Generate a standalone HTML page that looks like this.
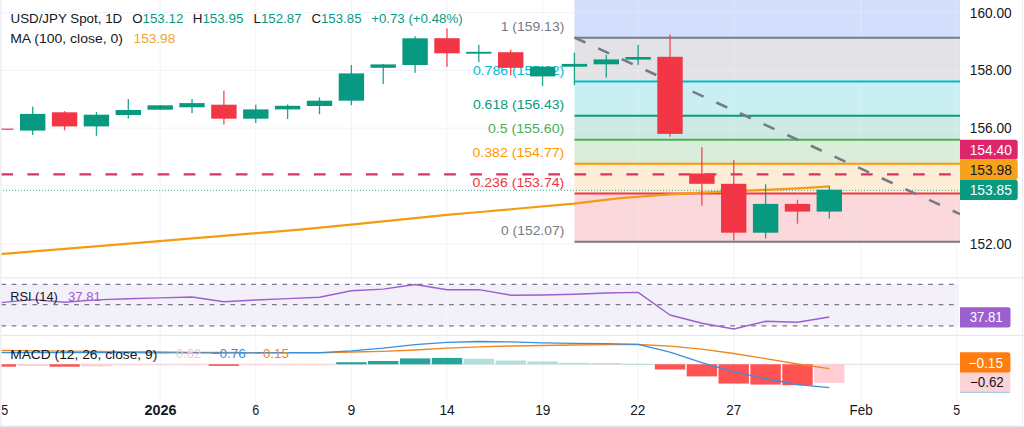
<!DOCTYPE html>
<html><head><meta charset="utf-8"><style>
html,body{margin:0;padding:0;background:#fff;width:1024px;height:427px;overflow:hidden}
svg{display:block;font-family:"Liberation Sans", sans-serif}
</style></head><body>
<svg width="1024" height="427" viewBox="0 0 1024 427">
<rect x="0" y="0" width="1024" height="427" fill="#ffffff"/>
<line x1="160.2" y1="0" x2="160.2" y2="402" stroke="#f0f3fa" stroke-width="1"/>
<line x1="255.8" y1="0" x2="255.8" y2="402" stroke="#f0f3fa" stroke-width="1"/>
<line x1="351.4" y1="0" x2="351.4" y2="402" stroke="#f0f3fa" stroke-width="1"/>
<line x1="447.0" y1="0" x2="447.0" y2="402" stroke="#f0f3fa" stroke-width="1"/>
<line x1="542.6" y1="0" x2="542.6" y2="402" stroke="#f0f3fa" stroke-width="1"/>
<line x1="638.1" y1="0" x2="638.1" y2="402" stroke="#f0f3fa" stroke-width="1"/>
<line x1="733.7" y1="0" x2="733.7" y2="402" stroke="#f0f3fa" stroke-width="1"/>
<line x1="861.2" y1="0" x2="861.2" y2="402" stroke="#f0f3fa" stroke-width="1"/>
<line x1="956.8" y1="0" x2="956.8" y2="402" stroke="#f0f3fa" stroke-width="1"/>
<line x1="0" y1="12.6" x2="960" y2="12.6" stroke="#f0f3fa" stroke-width="1"/>
<line x1="0" y1="70.4" x2="960" y2="70.4" stroke="#f0f3fa" stroke-width="1"/>
<line x1="0" y1="128.2" x2="960" y2="128.2" stroke="#f0f3fa" stroke-width="1"/>
<line x1="0" y1="185.9" x2="960" y2="185.9" stroke="#f0f3fa" stroke-width="1"/>
<line x1="0" y1="243.7" x2="960" y2="243.7" stroke="#f0f3fa" stroke-width="1"/>
<rect x="574.5" y="0.0" width="385.5" height="37.7" fill="#d3defc"/>
<rect x="574.5" y="37.7" width="385.5" height="43.6" fill="#e3e3e5"/>
<rect x="574.5" y="81.4" width="385.5" height="34.4" fill="#c9eff3"/>
<rect x="574.5" y="115.7" width="385.5" height="24.0" fill="#cde9e3"/>
<rect x="574.5" y="139.7" width="385.5" height="24.0" fill="#d9edda"/>
<rect x="574.5" y="163.7" width="385.5" height="29.8" fill="#fdecd6"/>
<rect x="574.5" y="193.5" width="385.5" height="48.2" fill="#fad8dc"/>
<line x1="638.1" y1="0" x2="638.1" y2="241.7" stroke="#ffffff" stroke-opacity="0.22" stroke-width="1"/>
<line x1="733.7" y1="0" x2="733.7" y2="241.7" stroke="#ffffff" stroke-opacity="0.22" stroke-width="1"/>
<line x1="861.2" y1="0" x2="861.2" y2="241.7" stroke="#ffffff" stroke-opacity="0.22" stroke-width="1"/>
<line x1="956.8" y1="0" x2="956.8" y2="241.7" stroke="#ffffff" stroke-opacity="0.22" stroke-width="1"/>
<line x1="574.5" y1="12.6" x2="960" y2="12.6" stroke="#ffffff" stroke-opacity="0.22" stroke-width="1"/>
<line x1="574.5" y1="70.4" x2="960" y2="70.4" stroke="#ffffff" stroke-opacity="0.22" stroke-width="1"/>
<line x1="574.5" y1="128.2" x2="960" y2="128.2" stroke="#ffffff" stroke-opacity="0.22" stroke-width="1"/>
<line x1="574.5" y1="185.9" x2="960" y2="185.9" stroke="#ffffff" stroke-opacity="0.22" stroke-width="1"/>
<line x1="574.5" y1="37.7" x2="960" y2="37.7" stroke="#787b86" stroke-width="2"/>
<line x1="574.5" y1="81.4" x2="960" y2="81.4" stroke="#00bcd4" stroke-width="2"/>
<line x1="574.5" y1="115.7" x2="960" y2="115.7" stroke="#089981" stroke-width="2"/>
<line x1="574.5" y1="139.7" x2="960" y2="139.7" stroke="#4caf50" stroke-width="2"/>
<line x1="574.5" y1="163.7" x2="960" y2="163.7" stroke="#ff9800" stroke-width="2"/>
<line x1="574.5" y1="193.5" x2="960" y2="193.5" stroke="#f23645" stroke-width="2"/>
<line x1="574.5" y1="241.7" x2="960" y2="241.7" stroke="#787b86" stroke-width="2"/>
<text x="500.7" y="31.0" fill="#787b86" font-size="13" text-anchor="start" font-weight="normal" textLength="63.6" lengthAdjust="spacingAndGlyphs">1 (159.13)</text>
<text x="472.9" y="74.7" fill="#00bcd4" font-size="13" text-anchor="start" font-weight="normal" textLength="91.4" lengthAdjust="spacingAndGlyphs">0.786 (157.62)</text>
<text x="472.9" y="109.0" fill="#089981" font-size="13" text-anchor="start" font-weight="normal" textLength="91.4" lengthAdjust="spacingAndGlyphs">0.618 (156.43)</text>
<text x="487.9" y="133.0" fill="#4caf50" font-size="13" text-anchor="start" font-weight="normal" textLength="76.4" lengthAdjust="spacingAndGlyphs">0.5 (155.60)</text>
<text x="472.5" y="157.0" fill="#ff9800" font-size="13" text-anchor="start" font-weight="normal" textLength="91.8" lengthAdjust="spacingAndGlyphs">0.382 (154.77)</text>
<text x="472.5" y="186.8" fill="#f23645" font-size="13" text-anchor="start" font-weight="normal" textLength="91.8" lengthAdjust="spacingAndGlyphs">0.236 (153.74)</text>
<text x="501.0" y="235.0" fill="#787b86" font-size="13" text-anchor="start" font-weight="normal" textLength="63.3" lengthAdjust="spacingAndGlyphs">0 (152.07)</text>
<line x1="0" y1="190.3" x2="960" y2="190.3" stroke="#089981" stroke-width="1" stroke-dasharray="1 2" stroke-opacity="0.8"/>
<line x1="1.3" y1="174.4" x2="951" y2="174.4" stroke="#d6336a" stroke-width="2.2" stroke-dasharray="11.7 14.35"/>
<polyline fill="none" stroke="#f39c12" stroke-width="2.2" stroke-linejoin="round" points="0,254.2 120,244.3 300,229.6 351,224.6 447,214.9 480,212.0 574,203.6 620,198.1 670,194.3 702,192.6 766,189.8 798,188.3 830,186.3"/>
<line x1="574.5" y1="37.5" x2="960" y2="214.1" stroke="#787b86" stroke-width="2.6" stroke-dasharray="12 14"/>
<rect x="0.18" y="128.6" width="1.3" height="1.2" fill="#f23645" fill-opacity="0.9"/>
<rect x="-11.9" y="128.6" width="25.4" height="1.2" fill="#f23645"/>
<rect x="32.05" y="106.6" width="1.3" height="28.4" fill="#089981" fill-opacity="0.9"/>
<rect x="20.0" y="113.9" width="25.4" height="16.7" fill="#089981"/>
<rect x="63.91" y="111.2" width="1.3" height="19.1" fill="#f23645" fill-opacity="0.9"/>
<rect x="51.9" y="112.3" width="25.4" height="14.1" fill="#f23645"/>
<rect x="95.78" y="111.9" width="1.3" height="23.9" fill="#089981" fill-opacity="0.9"/>
<rect x="83.7" y="114.7" width="25.4" height="11.7" fill="#089981"/>
<rect x="127.64" y="99.0" width="1.3" height="19.6" fill="#089981" fill-opacity="0.9"/>
<rect x="115.6" y="110.0" width="25.4" height="5.0" fill="#089981"/>
<rect x="159.51" y="105.0" width="1.3" height="5.0" fill="#089981" fill-opacity="0.9"/>
<rect x="147.5" y="105.3" width="25.4" height="4.4" fill="#089981"/>
<rect x="191.38" y="99.0" width="1.3" height="14.1" fill="#089981" fill-opacity="0.9"/>
<rect x="179.3" y="103.1" width="25.4" height="4.2" fill="#089981"/>
<rect x="223.24" y="90.6" width="1.3" height="33.9" fill="#f23645" fill-opacity="0.9"/>
<rect x="211.2" y="104.7" width="25.4" height="14.0" fill="#f23645"/>
<rect x="255.11" y="104.7" width="1.3" height="18.3" fill="#089981" fill-opacity="0.9"/>
<rect x="243.1" y="109.4" width="25.4" height="9.3" fill="#089981"/>
<rect x="286.97" y="104.4" width="1.3" height="14.6" fill="#089981" fill-opacity="0.9"/>
<rect x="274.9" y="105.8" width="25.4" height="3.6" fill="#089981"/>
<rect x="318.84" y="97.3" width="1.3" height="16.9" fill="#089981" fill-opacity="0.9"/>
<rect x="306.8" y="100.7" width="25.4" height="5.3" fill="#089981"/>
<rect x="350.71" y="65.0" width="1.3" height="40.2" fill="#089981" fill-opacity="0.9"/>
<rect x="338.7" y="73.4" width="25.4" height="27.3" fill="#089981"/>
<rect x="382.57" y="64.0" width="1.3" height="20.1" fill="#089981" fill-opacity="0.9"/>
<rect x="370.5" y="64.4" width="25.4" height="3.4" fill="#089981"/>
<rect x="414.44" y="36.3" width="1.3" height="36.5" fill="#089981" fill-opacity="0.9"/>
<rect x="402.4" y="38.3" width="25.4" height="26.7" fill="#089981"/>
<rect x="446.30" y="28.4" width="1.3" height="38.4" fill="#f23645" fill-opacity="0.9"/>
<rect x="434.3" y="38.2" width="25.4" height="15.1" fill="#f23645"/>
<rect x="478.17" y="44.9" width="1.3" height="17.2" fill="#089981" fill-opacity="0.9"/>
<rect x="466.1" y="51.8" width="25.4" height="1.9" fill="#089981"/>
<rect x="510.04" y="49.6" width="1.3" height="25.7" fill="#f23645" fill-opacity="0.9"/>
<rect x="498.0" y="52.2" width="25.4" height="15.6" fill="#f23645"/>
<rect x="541.90" y="65.9" width="1.3" height="20.2" fill="#089981" fill-opacity="0.9"/>
<rect x="529.9" y="66.7" width="25.4" height="9.7" fill="#089981"/>
<rect x="573.77" y="52.7" width="1.3" height="32.4" fill="#089981" fill-opacity="0.9"/>
<rect x="561.7" y="63.9" width="25.4" height="2.8" fill="#089981"/>
<rect x="605.63" y="54.8" width="1.3" height="22.8" fill="#089981" fill-opacity="0.9"/>
<rect x="593.6" y="59.4" width="25.4" height="4.9" fill="#089981"/>
<rect x="637.50" y="44.8" width="1.3" height="20.1" fill="#089981" fill-opacity="0.9"/>
<rect x="625.4" y="57.0" width="25.4" height="2.6" fill="#089981"/>
<rect x="669.37" y="34.6" width="1.3" height="102.1" fill="#f23645" fill-opacity="0.9"/>
<rect x="657.3" y="56.8" width="25.4" height="77.1" fill="#f23645"/>
<rect x="701.23" y="147.2" width="1.3" height="58.5" fill="#f23645" fill-opacity="0.9"/>
<rect x="689.2" y="173.5" width="25.4" height="10.3" fill="#f23645"/>
<rect x="733.10" y="160.1" width="1.3" height="80.3" fill="#f23645" fill-opacity="0.9"/>
<rect x="721.0" y="183.8" width="25.4" height="48.9" fill="#f23645"/>
<rect x="764.96" y="184.3" width="1.3" height="54.1" fill="#089981" fill-opacity="0.9"/>
<rect x="752.9" y="203.9" width="25.4" height="28.8" fill="#089981"/>
<rect x="796.83" y="199.7" width="1.3" height="24.0" fill="#f23645" fill-opacity="0.9"/>
<rect x="784.8" y="203.9" width="25.4" height="7.7" fill="#f23645"/>
<rect x="828.70" y="186.4" width="1.3" height="32.1" fill="#089981" fill-opacity="0.9"/>
<rect x="816.6" y="189.7" width="25.4" height="21.9" fill="#089981"/>
<text x="10.5" y="22.9" fill="#131722" font-size="13" text-anchor="start" font-weight="normal" textLength="111.7" lengthAdjust="spacingAndGlyphs">USD/JPY Spot, 1D</text>
<text x="132.2" y="22.9" fill="#089981" font-size="13" text-anchor="start" font-weight="normal" textLength="51.1" lengthAdjust="spacingAndGlyphs"><tspan fill="#131722">O</tspan>153.12</text>
<text x="192.7" y="22.9" fill="#089981" font-size="13" text-anchor="start" font-weight="normal" textLength="50.8" lengthAdjust="spacingAndGlyphs"><tspan fill="#131722">H</tspan>153.95</text>
<text x="253.6" y="22.9" fill="#089981" font-size="13" text-anchor="start" font-weight="normal" textLength="48.0" lengthAdjust="spacingAndGlyphs"><tspan fill="#131722">L</tspan>152.87</text>
<text x="311.4" y="22.9" fill="#089981" font-size="13" text-anchor="start" font-weight="normal" textLength="50.1" lengthAdjust="spacingAndGlyphs"><tspan fill="#131722">C</tspan>153.85</text>
<text x="371.2" y="22.9" fill="#089981" font-size="13" text-anchor="start" font-weight="normal" textLength="91.4" lengthAdjust="spacingAndGlyphs">+0.73 (+0.48%)</text>
<text x="10.2" y="42.7" fill="#131722" font-size="13" text-anchor="start" font-weight="normal" textLength="112.8" lengthAdjust="spacingAndGlyphs">MA (100, close, 0)</text>
<text x="133.6" y="42.7" fill="#f0a330" font-size="13" text-anchor="start" font-weight="normal" textLength="41.6" lengthAdjust="spacingAndGlyphs">153.98</text>
<line x1="0" y1="277.9" x2="1024" y2="277.9" stroke="#e0e3eb" stroke-width="1"/>
<line x1="0" y1="335.3" x2="1024" y2="335.3" stroke="#e0e3eb" stroke-width="1"/>
<rect x="0" y="284.4" width="959" height="41.4" fill="#f3f0fa"/>
<line x1="160.2" y1="284.4" x2="160.2" y2="325.8" stroke="#ffffff" stroke-opacity="0.3" stroke-width="1"/>
<line x1="255.8" y1="284.4" x2="255.8" y2="325.8" stroke="#ffffff" stroke-opacity="0.3" stroke-width="1"/>
<line x1="351.4" y1="284.4" x2="351.4" y2="325.8" stroke="#ffffff" stroke-opacity="0.3" stroke-width="1"/>
<line x1="447.0" y1="284.4" x2="447.0" y2="325.8" stroke="#ffffff" stroke-opacity="0.3" stroke-width="1"/>
<line x1="542.6" y1="284.4" x2="542.6" y2="325.8" stroke="#ffffff" stroke-opacity="0.3" stroke-width="1"/>
<line x1="638.1" y1="284.4" x2="638.1" y2="325.8" stroke="#ffffff" stroke-opacity="0.3" stroke-width="1"/>
<line x1="733.7" y1="284.4" x2="733.7" y2="325.8" stroke="#ffffff" stroke-opacity="0.3" stroke-width="1"/>
<line x1="861.2" y1="284.4" x2="861.2" y2="325.8" stroke="#ffffff" stroke-opacity="0.3" stroke-width="1"/>
<line x1="956.8" y1="284.4" x2="956.8" y2="325.8" stroke="#ffffff" stroke-opacity="0.3" stroke-width="1"/>
<line x1="1.2" y1="284.4" x2="958" y2="284.4" stroke="#787b86" stroke-width="1.3" stroke-dasharray="4.8 5.615"/>
<line x1="1.2" y1="304.6" x2="958" y2="304.6" stroke="#787b86" stroke-width="1.3" stroke-dasharray="4.8 5.615"/>
<line x1="1.2" y1="325.8" x2="958" y2="325.8" stroke="#787b86" stroke-width="1.3" stroke-dasharray="4.8 5.615"/>
<polyline fill="none" stroke="#9c5fcf" stroke-width="1.4" stroke-linejoin="round" points="0.0,302.8 0.8,302.6 32.7,299.6 64.6,302.2 96.4,299.9 128.3,298.8 160.2,297.9 192.0,297.0 223.9,301.7 255.8,300.0 287.6,298.6 319.5,297.3 351.4,290.7 383.2,289.1 415.1,284.5 447.0,289.8 478.8,289.6 510.7,295.2 542.6,295.0 574.4,294.3 606.3,293.0 638.1,292.4 670.0,315.0 701.9,323.2 733.7,329.0 765.6,321.3 797.5,322.2 829.3,317.0"/>
<text x="10.2" y="301.0" fill="#131722" font-size="13" text-anchor="start" font-weight="normal" textLength="47.6" lengthAdjust="spacingAndGlyphs">RSI (14)</text>
<text x="68.0" y="301.0" fill="#9c5fcf" font-size="13" text-anchor="start" font-weight="normal" textLength="32.8" lengthAdjust="spacingAndGlyphs">37.81</text>
<line x1="0" y1="364.3" x2="960" y2="364.3" stroke="#787b86" stroke-opacity="0.25" stroke-width="1"/>
<rect x="-14.4" y="364.3" width="30.4" height="2.4" fill="#ff5252"/>
<rect x="17.5" y="364.3" width="30.4" height="1.7" fill="#ffcdd2"/>
<rect x="49.4" y="364.3" width="30.4" height="2.4" fill="#ff5252"/>
<rect x="81.2" y="364.3" width="30.4" height="2.1" fill="#ffcdd2"/>
<rect x="113.1" y="364.3" width="30.4" height="1.0" fill="#ffcdd2"/>
<rect x="145.0" y="364.3" width="30.4" height="1.0" fill="#ffcdd2"/>
<rect x="176.8" y="364.3" width="30.4" height="1.0" fill="#ffcdd2"/>
<rect x="208.7" y="364.3" width="30.4" height="1.6" fill="#ff5252"/>
<rect x="240.6" y="364.3" width="30.4" height="1.0" fill="#ffcdd2"/>
<rect x="272.4" y="364.3" width="30.4" height="1.0" fill="#ffcdd2"/>
<rect x="304.3" y="364.3" width="30.4" height="1.0" fill="#ffcdd2"/>
<rect x="336.2" y="362.2" width="30.4" height="2.1" fill="#26a69a"/>
<rect x="368.0" y="361.0" width="30.4" height="3.3" fill="#26a69a"/>
<rect x="399.9" y="358.4" width="30.4" height="5.9" fill="#26a69a"/>
<rect x="431.8" y="357.9" width="30.4" height="6.4" fill="#26a69a"/>
<rect x="463.6" y="358.7" width="30.4" height="5.6" fill="#b2dfdb"/>
<rect x="495.5" y="360.5" width="30.4" height="3.8" fill="#b2dfdb"/>
<rect x="527.4" y="361.4" width="30.4" height="2.9" fill="#b2dfdb"/>
<rect x="559.2" y="362.8" width="30.4" height="1.5" fill="#b2dfdb"/>
<rect x="591.1" y="363.1" width="30.4" height="1.2" fill="#b2dfdb"/>
<rect x="622.9" y="363.8" width="30.4" height="1.0" fill="#b2dfdb"/>
<rect x="654.8" y="364.3" width="30.4" height="5.2" fill="#ff5252"/>
<rect x="686.7" y="364.3" width="30.4" height="12.1" fill="#ff5252"/>
<rect x="718.5" y="364.3" width="30.4" height="19.3" fill="#ff5252"/>
<rect x="750.4" y="364.3" width="30.4" height="20.3" fill="#ff5252"/>
<rect x="782.3" y="364.3" width="30.4" height="20.9" fill="#ff5252"/>
<rect x="814.1" y="364.3" width="30.4" height="18.5" fill="#ffcdd2"/>
<polyline fill="none" stroke="#f0861f" stroke-width="1.3" stroke-linejoin="round" points="0.8,350.5 32.7,350.8 64.6,351.1 96.4,351.4 128.3,351.7 160.2,352.0 192.0,352.3 223.9,352.5 255.8,352.7 287.6,352.8 319.5,352.9 351.4,352.0 383.2,351.3 415.1,350.0 447.0,348.2 478.8,346.8 510.7,346.0 542.6,345.5 574.4,345.0 606.3,344.6 638.1,344.5 670.0,346.2 701.9,349.2 733.7,353.5 765.6,358.7 797.5,364.0 829.3,368.6"/>
<polyline fill="none" stroke="#3b8fdc" stroke-width="1.3" stroke-linejoin="round" points="0.8,352.7 32.7,352.7 64.6,352.7 96.4,352.7 128.3,352.7 160.2,352.8 192.0,352.8 223.9,352.8 255.8,352.8 287.6,352.7 319.5,352.6 351.4,350.8 383.2,348.2 415.1,344.7 447.0,342.4 478.8,341.5 510.7,341.9 542.6,342.9 574.4,343.3 606.3,343.7 638.1,344.3 670.0,352.2 701.9,362.7 733.7,371.8 765.6,378.5 797.5,384.6 829.3,387.6"/>
<text x="10.2" y="358.7" fill="#131722" font-size="13" text-anchor="start" font-weight="normal" textLength="147.1" lengthAdjust="spacingAndGlyphs">MACD (12, 26, close, 9)</text>
<text x="168.5" y="358.4" fill="#f7c6c9" font-size="13" text-anchor="start" font-weight="normal" textLength="32.8" lengthAdjust="spacingAndGlyphs">−0.62</text>
<text x="211.5" y="358.4" fill="#3b8fdc" font-size="13" text-anchor="start" font-weight="normal" textLength="34.3" lengthAdjust="spacingAndGlyphs">−0.76</text>
<text x="255.1" y="358.4" fill="#f0861f" font-size="13" text-anchor="start" font-weight="normal" textLength="33.8" lengthAdjust="spacingAndGlyphs">−0.15</text>
<rect x="960" y="0" width="64" height="402" fill="#ffffff"/>
<text x="969.8" y="17.9" fill="#131722" font-size="14" text-anchor="start" font-weight="normal" textLength="41.8" lengthAdjust="spacingAndGlyphs">160.00</text>
<text x="969.8" y="75.1" fill="#131722" font-size="14" text-anchor="start" font-weight="normal" textLength="41.8" lengthAdjust="spacingAndGlyphs">158.00</text>
<text x="969.8" y="133.0" fill="#131722" font-size="14" text-anchor="start" font-weight="normal" textLength="41.8" lengthAdjust="spacingAndGlyphs">156.00</text>
<text x="969.8" y="249.0" fill="#131722" font-size="14" text-anchor="start" font-weight="normal" textLength="41.8" lengthAdjust="spacingAndGlyphs">152.00</text>
<path d="M960 139.7 H1015.2 Q1017.7 139.7 1017.7 142.2 V157.1 Q1017.7 159.6 1015.2 159.6 H960 Z" fill="#e0246a"/>
<text x="969.7" y="154.6" fill="#ffffff" font-size="14" text-anchor="start" font-weight="normal" textLength="42.1" lengthAdjust="spacingAndGlyphs">154.40</text>
<path d="M960 159.6 H1015.2 Q1017.7 159.6 1017.7 162.1 V177.2 Q1017.7 179.7 1015.2 179.7 H960 Z" fill="#f7a21b"/>
<text x="969.7" y="174.6" fill="#131722" font-size="14" text-anchor="start" font-weight="normal" textLength="42.1" lengthAdjust="spacingAndGlyphs">153.98</text>
<path d="M960 179.7 H1015.2 Q1017.7 179.7 1017.7 182.2 V197.5 Q1017.7 200.0 1015.2 200.0 H960 Z" fill="#089981"/>
<text x="969.7" y="194.8" fill="#ffffff" font-size="14" text-anchor="start" font-weight="normal" textLength="42.1" lengthAdjust="spacingAndGlyphs">153.85</text>
<path d="M960 307.2 H1008.0 Q1010.5 307.2 1010.5 309.7 V325.1 Q1010.5 327.6 1008.0 327.6 H960 Z" fill="#9c5fcf"/>
<text x="969.7" y="322.4" fill="#ffffff" font-size="14" text-anchor="start" font-weight="normal" textLength="32.9" lengthAdjust="spacingAndGlyphs">37.81</text>
<rect x="960" y="390.5" width="50" height="2.5" fill="#a9c8ee"/>
<path d="M960 352.3 H1007.9 Q1010.4 352.3 1010.4 354.8 V370.2 Q1010.4 372.7 1007.9 372.7 H960 Z" fill="#ff7c10"/>
<text x="968.5" y="367.5" fill="#ffffff" font-size="14" text-anchor="start" font-weight="normal" textLength="34.5" lengthAdjust="spacingAndGlyphs">−0.15</text>
<path d="M960 372.7 H1007.9 Q1010.4 372.7 1010.4 375.2 V389.3 Q1010.4 391.8 1007.9 391.8 H960 Z" fill="#fcd3d6"/>
<text x="970.0" y="387.2" fill="#131722" font-size="14" text-anchor="start" font-weight="normal" textLength="33.8" lengthAdjust="spacingAndGlyphs">−0.62</text>
<line x1="960" y1="277.9" x2="1024" y2="277.9" stroke="#e0e3eb" stroke-width="1"/>
<line x1="960" y1="335.3" x2="1024" y2="335.3" stroke="#e0e3eb" stroke-width="1"/>
<text x="1.3" y="415.1" fill="#131722" font-size="14" text-anchor="start" font-weight="normal" textLength="7.0" lengthAdjust="spacingAndGlyphs">5</text>
<text x="144.4" y="415.1" fill="#131722" font-size="14" text-anchor="start" font-weight="bold" textLength="32.0" lengthAdjust="spacingAndGlyphs">2026</text>
<text x="252.2" y="415.1" fill="#131722" font-size="14" text-anchor="start" font-weight="normal" textLength="7.0" lengthAdjust="spacingAndGlyphs">6</text>
<text x="347.4" y="415.1" fill="#131722" font-size="14" text-anchor="start" font-weight="normal" textLength="7.8" lengthAdjust="spacingAndGlyphs">9</text>
<text x="439.5" y="415.1" fill="#131722" font-size="14" text-anchor="start" font-weight="normal" textLength="15.2" lengthAdjust="spacingAndGlyphs">14</text>
<text x="535.2" y="415.1" fill="#131722" font-size="14" text-anchor="start" font-weight="normal" textLength="15.1" lengthAdjust="spacingAndGlyphs">19</text>
<text x="630.2" y="415.1" fill="#131722" font-size="14" text-anchor="start" font-weight="normal" textLength="15.1" lengthAdjust="spacingAndGlyphs">22</text>
<text x="726.3" y="415.1" fill="#131722" font-size="14" text-anchor="start" font-weight="normal" textLength="14.8" lengthAdjust="spacingAndGlyphs">27</text>
<text x="849.5" y="415.1" fill="#131722" font-size="14" text-anchor="start" font-weight="normal" textLength="23.1" lengthAdjust="spacingAndGlyphs">Feb</text>
<text x="953.2" y="415.1" fill="#131722" font-size="14" text-anchor="start" font-weight="normal" textLength="6.9" lengthAdjust="spacingAndGlyphs">5</text>
<rect x="0" y="0" width="1.6" height="427" fill="#eef0f3"/>
<rect x="1022" y="0" width="1" height="427" fill="#eceef2"/>
<rect x="0" y="425.5" width="1024" height="1.5" fill="#e6e8ee"/>
</svg>
</body></html>
